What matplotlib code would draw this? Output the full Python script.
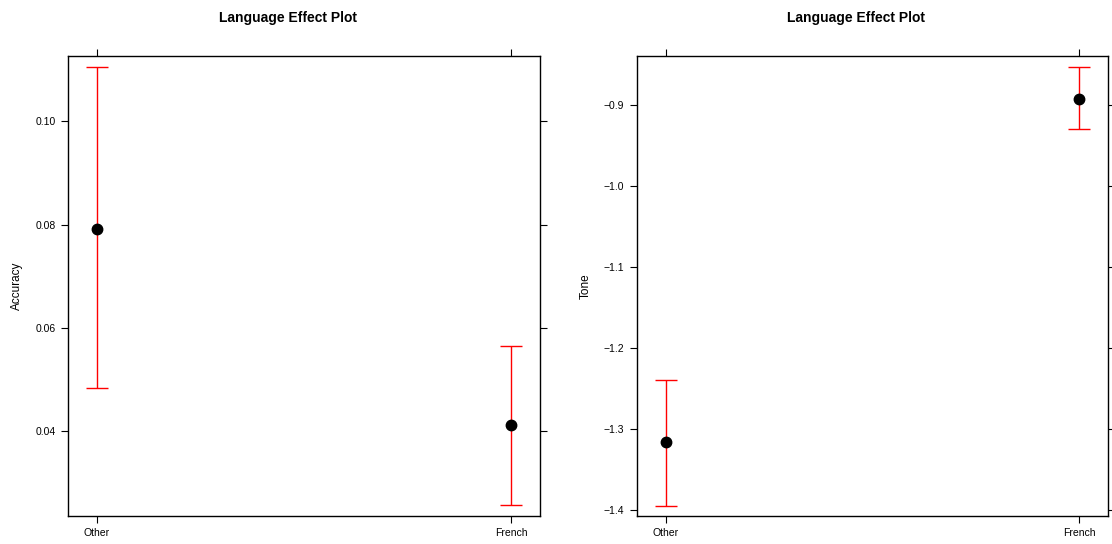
import matplotlib
matplotlib.use('Agg')
import matplotlib.pyplot as plt

plt.rcParams['font.family'] = ['Liberation Sans', 'DejaVu Sans']

# data
languages = ['Other', 'French']
acc_fit = [0.0792, 0.0412]
acc_lower = [0.0483, 0.0257]
acc_upper = [0.1104, 0.0564]
tone_fit = [-1.316, -0.8926]
tone_lower = [-1.395, -0.9296]
tone_upper = [-1.2395, -0.853]

acc_ticks = [0.04, 0.06, 0.08, 0.10]
tone_ticks = [-1.4, -1.3, -1.2, -1.1, -1.0, -0.9]


def effect_panel(ax, fit, lower, upper, ylabel, yticks, ylim, fmt):
    x = list(range(len(languages)))
    err = [[f - l for f, l in zip(fit, lower)], [u - f for f, u in zip(fit, upper)]]
    ax.errorbar(x, fit, yerr=err, fmt='none', ecolor='#ff0000', elinewidth=1.0,
                capsize=8, capthick=1.0)
    ax.plot(x, fit, 'o', color='black', markersize=7.5, zorder=5)
    ax.set_xlim(-0.07, 1.07)
    ax.set_ylim(*ylim)
    ax.set_xticks(x)
    ax.set_xticklabels(languages)
    ax.set_yticks(yticks)
    ax.set_yticklabels([fmt(t).replace('-', '\u2212') for t in yticks])
    ax.tick_params(axis='both', direction='out', length=5, width=0.8, labelsize=7.5,
                   top=True, right=True, labeltop=False, labelright=False, pad=4)
    ax.set_ylabel(ylabel, fontsize=8.5, labelpad=9)
    for s in ax.spines.values():
        s.set_linewidth(1.0)


fig = plt.figure(figsize=(11.12, 5.44), dpi=100)
ax1 = fig.add_axes([0.0612, 0.0515, 0.4244, 0.8455])
ax2 = fig.add_axes([0.5728, 0.0515, 0.4236, 0.8455])

effect_panel(ax1, acc_fit, acc_lower, acc_upper, 'Accuracy', acc_ticks,
             (0.0236, 0.1126), lambda t: f'{t:.2f}')
effect_panel(ax2, tone_fit, tone_lower, tone_upper, 'Tone', tone_ticks,
             (-1.4074, -0.8395), lambda t: f'{t:.1f}')

fig.text(288 / 1112, 1 - 18 / 544, 'Language Effect Plot', ha='center', va='center',
         fontsize=10, fontweight='bold')
fig.text(856 / 1112, 1 - 18 / 544, 'Language Effect Plot', ha='center', va='center',
         fontsize=10, fontweight='bold')

fig.savefig('out.png', dpi=100)
